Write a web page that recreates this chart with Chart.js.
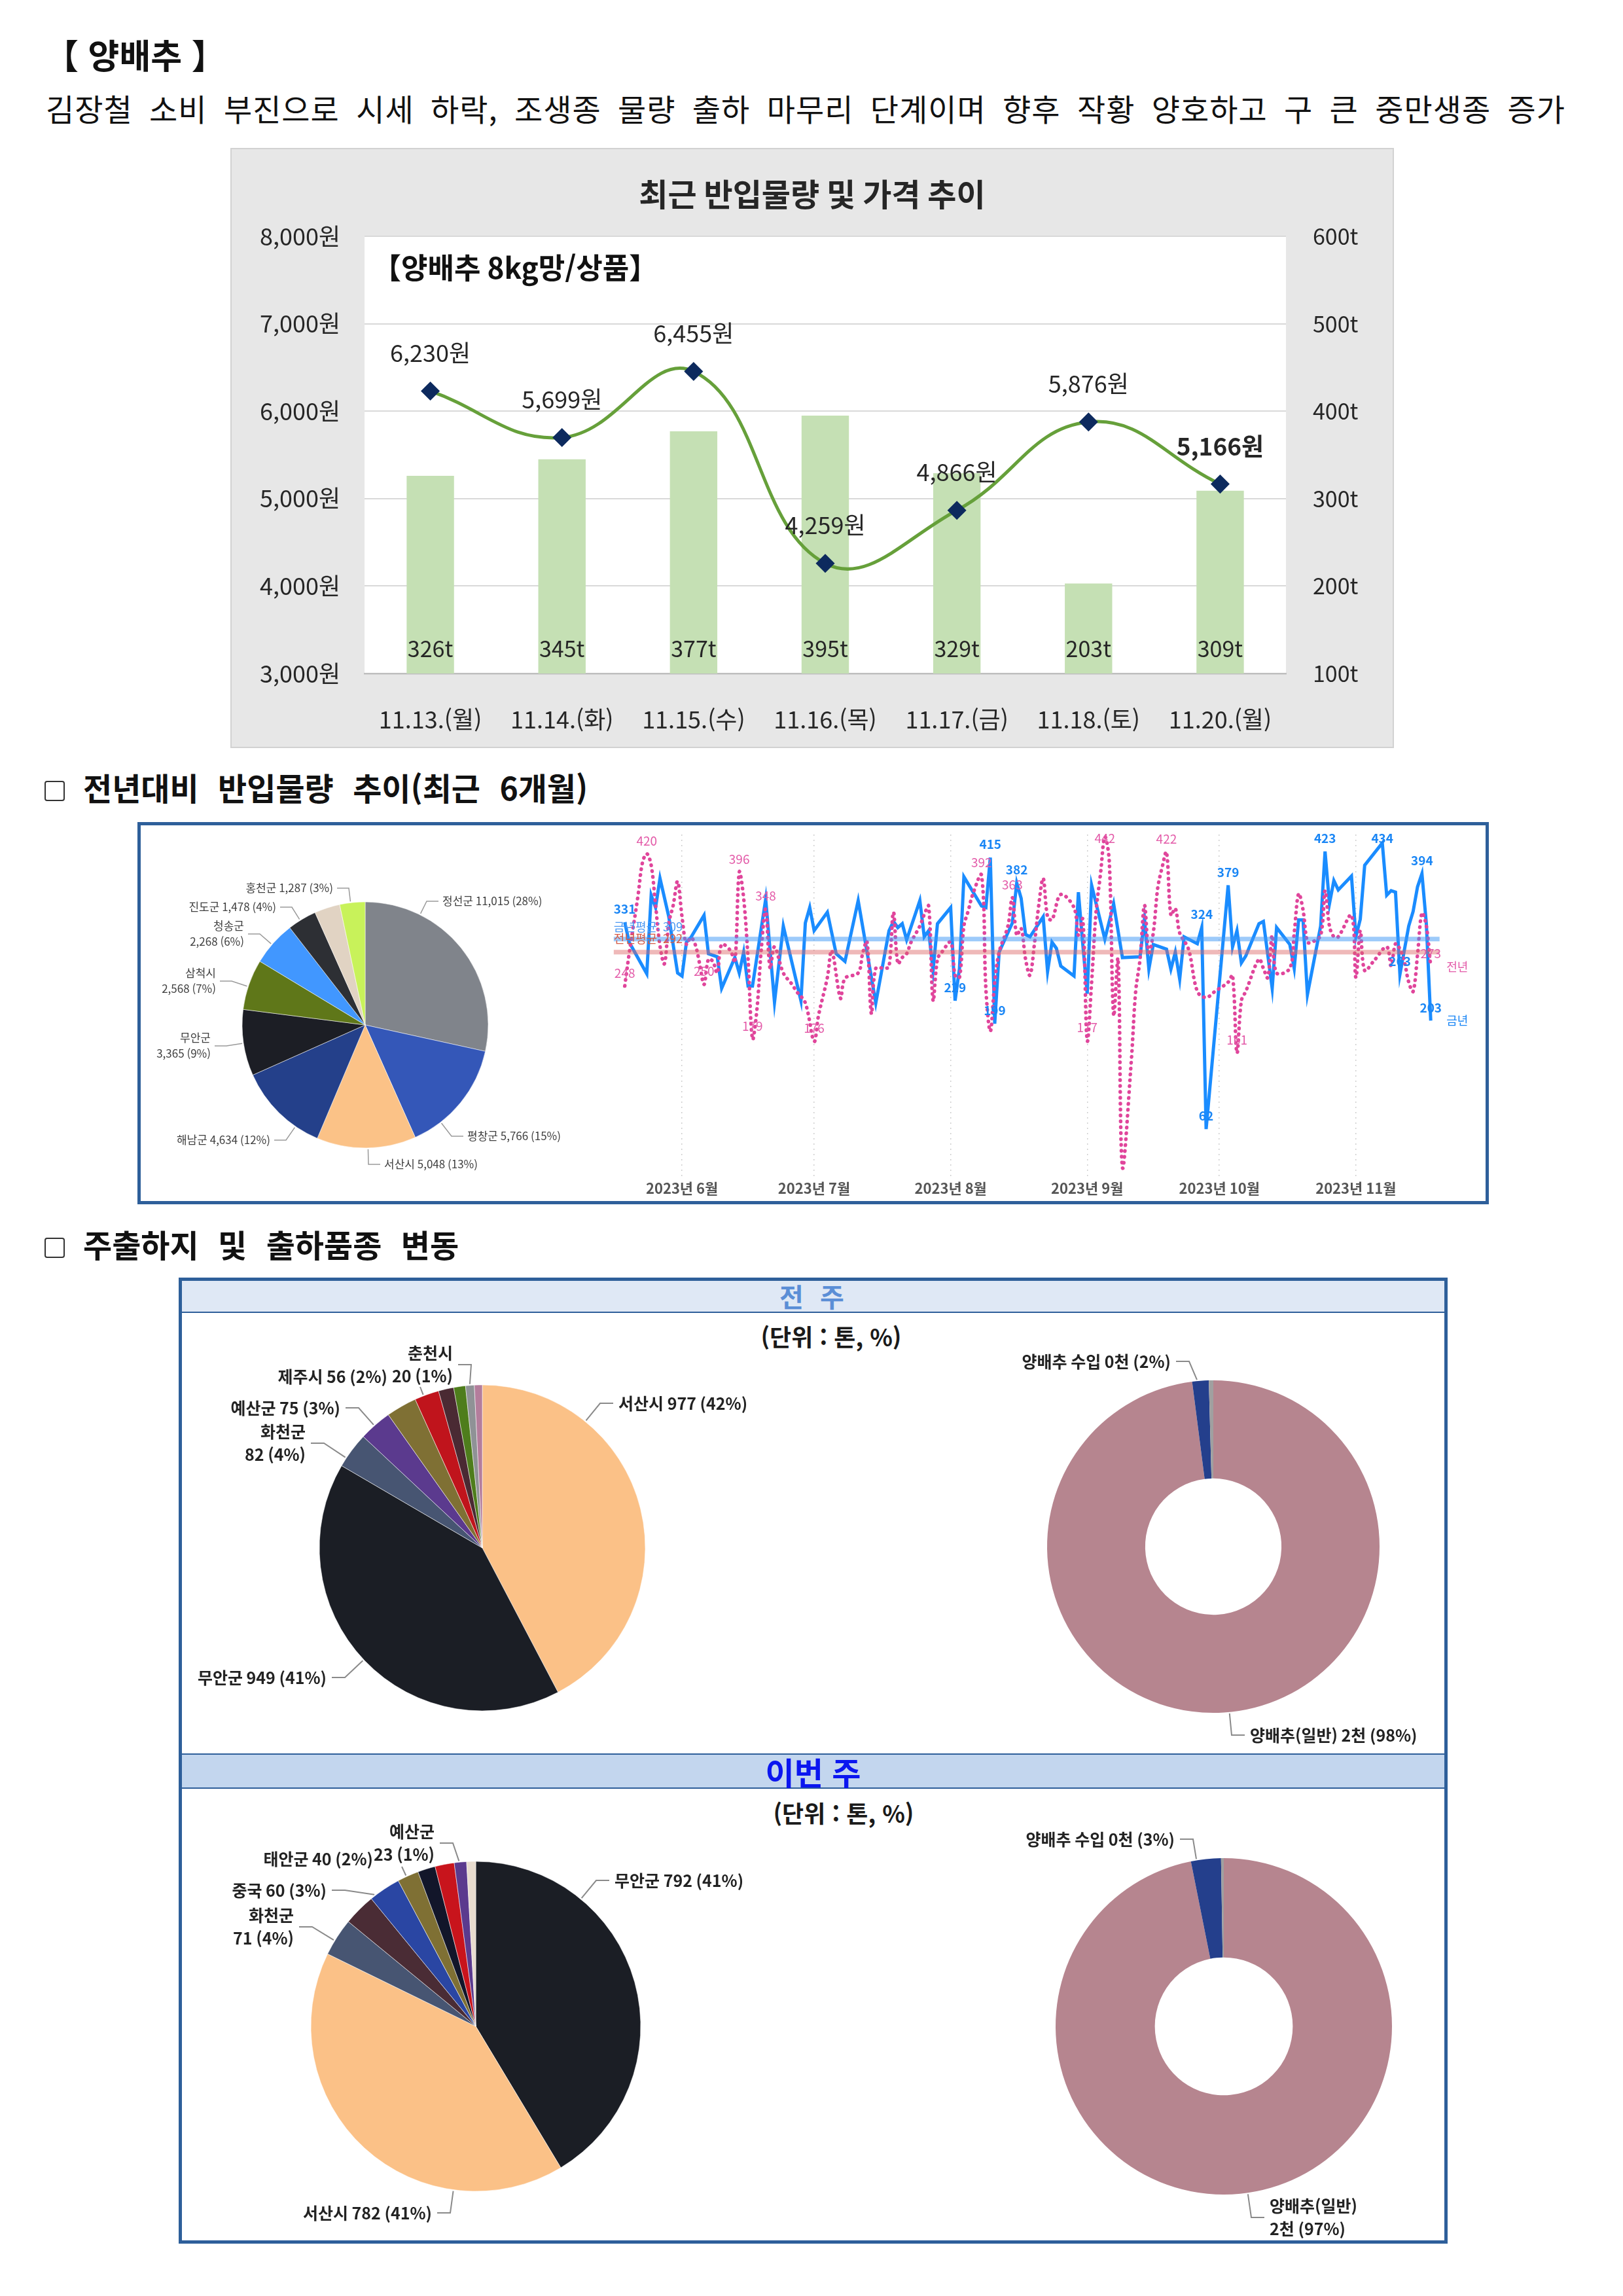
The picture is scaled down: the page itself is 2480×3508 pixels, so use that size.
<!DOCTYPE html>
<html lang="ko">
<head>
<meta charset="utf-8">
<title>양배추 반입물량 및 가격 추이</title>
<script src="https://cdn.jsdelivr.net/npm/chart.js@4.4.1/dist/chart.umd.min.js"></script>
<style>
  html, body { margin: 0; padding: 0; background: #fff; }
  #page { position: relative; width: 2480px; height: 3508px; overflow: hidden; background: #fff;
          font-family: "Noto Sans CJK KR", "Noto Sans", sans-serif; color: #111; }
  #page > * { position: absolute; }
  .title { left: 68px; top: 53px; font-size: 52px; line-height: 60px; font-weight: 700; }
  .lead { left: 70px; top: 137px; width: 2322px; font-size: 47px; line-height: 56px; letter-spacing: 1px;
          text-align: justify; text-align-last: justify; text-justify: inter-word; }
  .head { left: 68px; font-size: 48px; line-height: 56px; font-weight: 700; word-spacing: 16px; white-space: nowrap; }
  .head i { display: inline-block; width: 27px; height: 27px; border: 2.5px solid #333; border-radius: 4px;
            vertical-align: -1px; margin-right: 28px; }
  .panel1 { left: 352px; top: 226px; width: 1778px; height: 917px; background: #e7e7e7;
            border: 2px solid #d2d2d2; box-sizing: border-box; }
  .frame { border: 5px solid #2e5f9a; box-sizing: border-box; }
  .band { left: 278px; width: 1929px; text-align: center; font-weight: 700; }
  .band1 { top: 1957px; height: 47px; line-height: 47px; background: #dfe8f5; border-bottom: 2px solid #2e5f9a;
           color: #5b8ed6; font-size: 40px; letter-spacing: 4px; word-spacing: 6px; }
  .band2 { top: 2679px; height: 50px; line-height: 50px; background: #c3d6ee; border-top: 2px solid #2e5f9a;
           border-bottom: 2px solid #2e5f9a; color: #0b16f0; font-size: 48px; }
  .unit { width: 400px; text-align: center; font-size: 36px; line-height: 50px; font-weight: 700; color: #1a1a1a; }
</style>
</head>
<body>
<div id="page">
  <div class="title">【 양배추 】</div>
  <div class="lead">김장철 소비 부진으로 시세 하락, 조생종 물량 출하 마무리 단계이며 향후 작황 양호하고 구 큰 중만생종 증가</div>

  <div class="panel1"></div>
  <canvas id="priceChart" style="left:354px;top:228px" width="1774" height="913"></canvas>

  <div class="head" style="top:1174px"><i></i>전년대비 반입물량 추이(최근 6개월)</div>
  <div class="frame" style="left:210px;top:1256px;width:2065px;height:584px"></div>
  <canvas id="sharePie"></canvas>
  <canvas id="trendChart" style="left:921px;top:1268px" width="1346" height="572"></canvas>

  <div class="head" style="top:1872px"><i></i>주출하지 및 출하품종 변동</div>
  <div class="frame" style="left:273px;top:1952px;width:1939px;height:1476px"></div>
  <div class="band band1">전 주</div>
  <div class="unit" style="left:1070px;top:2016px">(단위 : 톤, %)</div>
  <canvas id="prevOrigin"></canvas>
  <canvas id="prevKind"></canvas>
  <div class="band band2">이번 주</div>
  <div class="unit" style="left:1089px;top:2744px">(단위 : 톤, %)</div>
  <canvas id="nowOrigin"></canvas>
  <canvas id="nowKind"></canvas>
</div>

<script>
// ---- 최근 반입물량 및 가격 추이 ----
const priceDays = ['11.13.(월)', '11.14.(화)', '11.15.(수)', '11.16.(목)', '11.17.(금)', '11.18.(토)', '11.20.(월)'];
const priceValues = [6230, 5699, 6455, 4259, 4866, 5876, 5166];
const volumeValues = [326, 345, 377, 395, 329, 203, 309];
const priceNote = '【양배추 8kg망/상품】';

// ---- 전년대비 반입물량 추이: x = days since 2023-05-19 ----
const monthTickLabels = ['2023년 6월', '2023년 7월', '2023년 8월', '2023년 9월', '2023년 10월', '2023년 11월'];
const thisYearDay = [0,1,5,6,7,8,10,12,13,14,15,18,19,21,22,25,26,27,28,29,32,34,36,40,41,42,43,46,48,50,53,57,60,61,62,63,64,67,68,69,70,71,74,75,76,77,81,82,83,84,85,88,89,90,91,92,95,96,97,98,99,102,103,104,105,106,109,111,113,117,118,119,120,123,124,125,126,127,130,131,132,137,138,139,140,141,144,145,147,148,151,152,153,154,155,158,159,160,161,162,165,166,167,168,172,173,174,175,176,178,179,180,181,182,183];
const thisYearTon = [331,305,264,366,350,388,338,265,261,305,311,340,290,286,245,285,265,292,248,248,361,227,326,229,330,350,320,344,290,280,359,226,320,332,324,329,308,359,312,320,268,329,350,229,271,390,352,350,415,199,292,330,382,362,315,312,338,267,305,297,274,261,370,302,238,379,309,355,285,286,335,270,302,296,270,292,257,312,303,324,62,379,299,320,278,287,329,332,245,324,302,271,334,334,237,326,423,355,385,373,391,312,335,405,434,366,372,370,263,326,345,377,394,329,203];
const lastYearDay = [0,1,3,4,5,6,7,8,9,10,11,12,13,14,15,16,17,18,19,20,21,22,24,25,26,27,28,29,30,31,32,33,34,36,38,39,41,43,44,46,47,49,50,53,54,55,56,57,59,60,61,62,63,64,65,67,68,69,70,71,72,74,75,76,77,78,79,81,82,83,84,85,87,88,89,90,91,92,93,94,95,96,97,99,102,103,104,105,106,107,108,109,110,111,112,113,115,116,117,118,119,120,121,122,123,124,125,126,128,130,132,134,137,138,139,140,141,144,145,146,147,148,151,152,153,154,155,156,158,159,160,161,162,165,166,167,168,170,173,174,175,176,177,178,179,180,181,182,183];
const lastYearTon = [248,290,365,408,420,405,353,300,277,330,353,384,338,302,311,302,277,250,283,280,265,302,294,279,396,362,283,179,217,296,348,271,299,265,250,241,226,176,210,259,294,232,258,265,290,306,212,271,271,273,344,277,285,290,305,326,341,352,229,283,292,305,262,259,326,346,367,392,244,189,253,292,326,363,314,323,283,262,302,353,388,338,334,367,350,314,335,177,253,344,393,442,411,210,283,12,150,241,283,353,292,317,375,402,422,340,349,317,296,241,233,241,253,262,161,229,241,283,271,259,314,265,271,317,368,347,305,305,314,372,326,312,312,340,259,320,268,280,299,274,303,296,280,253,241,289,343,326,273];
const thisYearMarks = [0, 75, 83, 84, 89, 131, 132, 137, 159, 172, 176, 181, 183];
const lastYearMarks = [0, 5, 18, 26, 29, 32, 43, 81, 88, 105, 109, 123, 139, 183];
const thisYearAvg = 309;
const lastYearAvg = 292;

// ---- 최근 6개월 산지별 반입 ----
const shareRegions = ['정선군', '평창군', '서산시', '해남군', '무안군', '삼척시', '청송군', '진도군', '기타', '홍천군'];
const shareTons = [11015, 5766, 5048, 4634, 3365, 2568, 2268, 1478, 1300, 1287];

// ---- 주출하지 / 출하품종 ----
const prevRegions = ['서산시', '무안군', '화천군', '예산군', '기타A', '제주시', '기타B', '기타C', '춘천시', '기타D'];
const prevTons = [977, 949, 82, 75, 70, 56, 35, 27, 20, 18];
const prevKinds = ['양배추(일반)', '양배추 수입', '기타'];
const prevKindTons = [2262, 37, 10];
const nowRegions = ['무안군', '서산시', '화천군', '기타A', '중국', '태안군', '기타B', '기타C', '예산군', '기타D'];
const nowTons = [792, 782, 71, 60, 60, 40, 33, 36, 23, 17];
const nowKinds = ['양배추(일반)', '양배추 수입', '기타'];
const nowKindTons = [1854, 55, 5];

const FONT = "'Noto Sans CJK KR', 'Noto Sans', sans-serif";
Chart.defaults.font.family = FONT;

const seriesStart = Date.UTC(2023, 4, 19);
const dayOf = (m, d) => Math.round((Date.UTC(2023, m - 1, d) - seriesStart) / 86400000);
const monthTickDays = [6, 7, 8, 9, 10, 11].map(m => dayOf(m, 1));

// white plot area and value labels for the price chart
const plotPanel = {
  id: 'plotPanel',
  beforeDraw(chart) {
    const {ctx, chartArea: a} = chart;
    ctx.save();
    ctx.fillStyle = '#fff';
    ctx.fillRect(a.left, a.top, a.right - a.left, a.bottom - a.top);
    ctx.restore();
  },
  afterDatasetsDraw(chart) {
    const {ctx, chartArea: a} = chart;
    ctx.save();
    ctx.textBaseline = 'middle';
    ctx.textAlign = 'left';
    ctx.fillStyle = '#111';
    ctx.font = `bold 44px ${FONT}`;
    ctx.fillText(priceNote, a.left + 12, a.top + 48);
    ctx.textAlign = 'center';
    ctx.fillStyle = '#262626';
    ctx.font = `34px ${FONT}`;
    chart.getDatasetMeta(1).data.forEach((b, i) => ctx.fillText(volumeValues[i] + 't', b.x, a.bottom - 38));
    const pts = chart.getDatasetMeta(0).data;
    pts.forEach((p, i) => {
      const last = i === pts.length - 1;
      ctx.font = (last ? 'bold 37px ' : '36px ') + FONT;
      ctx.fillText(priceValues[i].toLocaleString('en-US') + '원', p.x, p.y - 58);
    });
    ctx.restore();
  }
};

new Chart(document.getElementById('priceChart'), {
  data: {
    labels: priceDays,
    datasets: [
      { type: 'line', label: '가격', data: priceValues, yAxisID: 'y', order: 1,
        borderColor: '#66a03a', borderWidth: 5, tension: 0.42,
        pointStyle: 'rectRot', pointRadius: 11, pointBackgroundColor: '#0d2a5e', pointBorderColor: '#0d2a5e' },
      { type: 'bar', label: '반입물량', data: volumeValues, yAxisID: 'y1', order: 2,
        backgroundColor: '#c5e0b4', barPercentage: 0.36, categoryPercentage: 1 }
    ]
  },
  options: {
    responsive: false, animation: false, devicePixelRatio: 1,
    plugins: {
      legend: { display: false }, tooltip: { enabled: false },
      title: { display: true, text: '최근 반입물량 및 가격 추이', color: '#262626',
               font: { size: 48, weight: 'bold' }, padding: { top: 40, bottom: 35.4 } }
    },
    scales: {
      x: { grid: { display: false }, border: { color: '#bfbfbf', width: 2.5 },
           ticks: { font: { size: 36 }, color: '#262626', padding: 41 },
           afterFit: s => { s.height = 112; } },
      y: { position: 'left', min: 3000, max: 8000,
           ticks: { stepSize: 1000, font: { size: 36 }, color: '#262626', padding: 37,
                    callback: v => v.toLocaleString('en-US') + '원' },
           grid: { color: '#d9d9d9', lineWidth: 2, drawTicks: false }, border: { display: false },
           afterFit: s => { s.width = 203; } },
      y1: { position: 'right', min: 100, max: 600,
            ticks: { stepSize: 100, font: { size: 34 }, color: '#262626', padding: 41, callback: v => v + 't' },
            grid: { drawOnChartArea: false, drawTicks: false }, border: { display: false },
            afterFit: s => { s.width = 163; } }
    }
  },
  plugins: [plotPanel]
});

// labels, average lines and end names for the trend chart
const trendMarks = {
  id: 'trendMarks',
  afterDatasetsDraw(chart) {
    const {ctx, chartArea, scales: {x, y}} = chart;
    ctx.save();
    const avgRows = [
      { name: '금년평균', value: thisYearAvg, line: 'rgba(60,150,245,0.5)', text: '#4a97f2', lift: 19 },
      { name: '전년평균', value: lastYearAvg, line: 'rgba(220,100,100,0.45)', text: '#d65a45', lift: 21 }
    ];
    const x0 = x.getPixelForValue(-2.5), x1 = x.getPixelForValue(185);
    avgRows.forEach(r => {
      const py = y.getPixelForValue(r.value);
      ctx.strokeStyle = r.line;
      ctx.lineWidth = 7;
      ctx.beginPath(); ctx.moveTo(x0, py); ctx.lineTo(x1, py); ctx.stroke();
      ctx.fillStyle = r.text;
      ctx.font = `18px ${FONT}`;
      ctx.textAlign = 'left'; ctx.textBaseline = 'middle';
      ctx.fillText(`${r.name}: ${r.value}`, x0, py - r.lift);
    });
    chart.data.datasets.forEach((ds, di) => {
      const meta = chart.getDatasetMeta(di);
      ctx.fillStyle = ds.markColor;
      ctx.font = ds.markFont;
      ctx.textAlign = 'center'; ctx.textBaseline = 'middle';
      ds.marks.forEach(day => {
        const i = ds.data.findIndex(p => p.x === day);
        if (i < 0) return;
        const pt = meta.data[i];
        ctx.fillText(String(ds.data[i].y), pt.x, Math.max(pt.y - 20, chartArea.top + 6));
      });
      const last = meta.data[meta.data.length - 1];
      ctx.font = `18px ${FONT}`;
      ctx.textAlign = 'left';
      ctx.fillText(ds.label, last.x + 24, last.y);
    });
    ctx.restore();
  }
};

new Chart(document.getElementById('trendChart'), {
  type: 'line',
  data: {
    datasets: [
      { label: '전년', data: lastYearDay.map((d, i) => ({ x: d, y: lastYearTon[i] })),
        borderColor: '#e0459b', borderWidth: 5.5, borderDash: [0.5, 8.5], borderCapStyle: 'round',
        pointRadius: 0, tension: 0.35,
        marks: lastYearMarks, markColor: '#e35aa8', markFont: `19px ${FONT}` },
      { label: '금년', data: thisYearDay.map((d, i) => ({ x: d, y: thisYearTon[i] })),
        borderColor: '#1a8cff', borderWidth: 5, pointRadius: 0, tension: 0,
        marks: thisYearMarks, markColor: '#1a86f5', markFont: `bold 19px ${FONT}` }
    ]
  },
  options: {
    responsive: false, animation: false, devicePixelRatio: 1,
    layout: { padding: { top: 7 } },
    plugins: { legend: { display: false }, tooltip: { enabled: false } },
    scales: {
      x: { type: 'linear', min: -5, max: 195,
           afterBuildTicks: s => { s.ticks = monthTickDays.map(v => ({ value: v })); },
           afterFit: s => { s.height = 42; },
           ticks: { autoSkip: false, maxRotation: 0, padding: 4, color: '#555',
                    font: { size: 22, weight: 'bold' },
                    callback: v => monthTickLabels[monthTickDays.indexOf(v)] },
           grid: { color: '#cfcfcf', lineWidth: 1.5, drawTicks: false },
           border: { display: false, dash: [2, 6] } },
      y: { display: false, min: 0, max: 445 }
    }
  },
  plugins: [trendMarks]
});

// slice labels with leader lines
const sliceLabels = {
  id: 'sliceLabels',
  afterDatasetsDraw(chart) {
    const ds = chart.data.datasets[0];
    const st = ds.labelStyle, lay = ds.labelLayout;
    const meta = chart.getDatasetMeta(0);
    const total = ds.data.reduce((s, v) => s + v, 0);
    const {ctx} = chart;
    const TAU = Math.PI * 2;
    ctx.save();
    ctx.font = st.font; ctx.fillStyle = st.color;
    ctx.strokeStyle = st.line; ctx.lineWidth = st.lineWidth;
    ctx.textBaseline = 'middle';
    meta.data.forEach((arc, i) => {
      const L = lay[i];
      if (!L) return;
      const {x: cx, y: cy, startAngle, endAngle, outerRadius} =
        arc.getProps(['x', 'y', 'startAngle', 'endAngle', 'outerRadius'], true);
      const v = ds.data[i];
      const amount = st.thousand ? Math.round(v / 1000) + '천' : v.toLocaleString('en-US');
      const tail = `${amount} (${Math.round(v / total * 100)}%)`;
      const name = chart.data.labels[i];
      const lines = L.wrap ? [name, tail] : [name + ' ' + tail];
      const dir = L.align === 'left' ? 1 : -1;
      const tx = cx + L.x, ty = cy + L.y;
      const side = { x: tx - dir * st.gap, y: ty };
      const elbow = L.ex !== undefined ? { x: cx + L.ex, y: cy + L.ey } : { x: side.x - dir * st.tail, y: ty };
      let a = Math.atan2(elbow.y - cy, elbow.x - cx);
      while (a < startAngle) a += TAU;
      while (a > startAngle + TAU) a -= TAU;
      const inset = Math.min(0.03, (endAngle - startAngle) / 2);
      if (a > endAngle - inset) a = (a - endAngle < startAngle + TAU - a) ? endAngle - inset : startAngle + inset;
      if (a < startAngle + inset) a = startAngle + inset;
      const r = outerRadius + 2;
      ctx.beginPath();
      ctx.moveTo(cx + Math.cos(a) * r, cy + Math.sin(a) * r);
      ctx.lineTo(elbow.x, elbow.y);
      if (L.ex === undefined) ctx.lineTo(side.x, side.y);
      ctx.stroke();
      ctx.textAlign = L.align;
      lines.forEach((t, k) => ctx.fillText(t, tx, ty + (k - (lines.length - 1) / 2) * st.lineHeight));
    });
    ctx.restore();
  }
};

function placeCanvas(id, cx, cy, halfW, halfH) {
  const c = document.getElementById(id);
  c.width = halfW * 2; c.height = halfH * 2;
  c.style.left = (cx - halfW) + 'px'; c.style.top = (cy - halfH) + 'px';
  return c;
}

function pieChart(canvas, type, labels, values, colors, radius, layout, style, border) {
  return new Chart(canvas, {
    type: type,
    data: { labels: labels, datasets: [{ data: values, backgroundColor: colors,
            borderColor: 'rgba(255,255,255,0.55)', borderWidth: border,
            labelLayout: layout, labelStyle: style }] },
    options: { responsive: false, animation: false, devicePixelRatio: 1, radius: radius,
               cutout: type === 'doughnut' ? '41%' : 0,
               plugins: { legend: { display: false }, tooltip: { enabled: false } } },
    plugins: [sliceLabels]
  });
}

const smallStyle = { font: `17px ${FONT}`, color: '#404040', line: '#9a9a9a', lineWidth: 1.5, lineHeight: 24, gap: 6, tail: 18 };
const boldStyle = { font: `bold 25px ${FONT}`, color: '#222', line: '#8a8a8a', lineWidth: 2, lineHeight: 35, gap: 8, tail: 20 };
const boldKilo = Object.assign({}, boldStyle, { thousand: true });

pieChart(placeCanvas('sharePie', 558, 1566, 340, 300), 'pie', shareRegions, shareTons,
  ['#80848b', '#3457b8', '#fbc287', '#24408a', '#1c1e25', '#5f7719', '#4197ff', '#2d2f34', '#e1d3c3', '#c8f25a'], 188,
  [ { x: 118, y: -189, align: 'left' }, { x: 156, y: 170, align: 'left' }, { x: 29, y: 213, align: 'left' },
    { x: -145, y: 176, align: 'right' }, { x: -236, y: 32, align: 'right', wrap: true },
    { x: -228, y: -67, align: 'right', wrap: true }, { x: -185, y: -139, align: 'right', wrap: true },
    { x: -136, y: -180, align: 'right' }, null, { x: -49, y: -209, align: 'right' } ], smallStyle, 1);

pieChart(placeCanvas('prevOrigin', 737, 2365, 450, 330), 'pie', prevRegions, prevTons,
  ['#fbc187', '#1b1e25', '#475572', '#5b3a8e', '#7f7034', '#c0141c', '#4a2a33', '#4e7d1c', '#8f9296', '#b47d9c'], 249,
  [ { x: 208, y: -221, align: 'left' }, { x: -238, y: 198, align: 'right' },
    { x: -270, y: -160, align: 'right', wrap: true }, { x: -217, y: -214, align: 'right' }, null,
    { x: -145, y: -262, align: 'right', ex: -95, ey: -246 }, null, null,
    { x: -45, y: -280, align: 'right', wrap: true }, null ], boldStyle, 1);

pieChart(placeCanvas('prevKind', 1854, 2363, 350, 330), 'doughnut', prevKinds, prevKindTons,
  ['#b6858f', '#243f8c', '#a0a0a0'], 254,
  [ { x: 56, y: 288, align: 'left' }, { x: -65, y: -283, align: 'right' }, null ], boldKilo, 0);

pieChart(placeCanvas('nowOrigin', 727, 3096, 450, 330), 'pie', nowRegions, nowTons,
  ['#1b1e25', '#fbc187', '#475572', '#4a2c35', '#2a46a3', '#7f7034', '#12162a', '#c8141c', '#5b3a8e', '#e8dccf'], 252,
  [ { x: 212, y: -223, align: 'left' }, { x: -67, y: 285, align: 'right' },
    { x: -278, y: -152, align: 'right', wrap: true }, null, { x: -228, y: -208, align: 'right' },
    { x: -157, y: -256, align: 'right', ex: -113, ey: -244 }, null, null,
    { x: -63, y: -280, align: 'right', wrap: true }, null ], boldStyle, 1);

pieChart(placeCanvas('nowKind', 1870, 3096, 340, 330), 'doughnut', nowKinds, nowKindTons,
  ['#b6858f', '#243f8c', '#a0a0a0'], 257,
  [ { x: 70, y: 292, align: 'left', wrap: true }, { x: -75, y: -286, align: 'right' }, null ], boldKilo, 0);
</script>
</body>
</html>
